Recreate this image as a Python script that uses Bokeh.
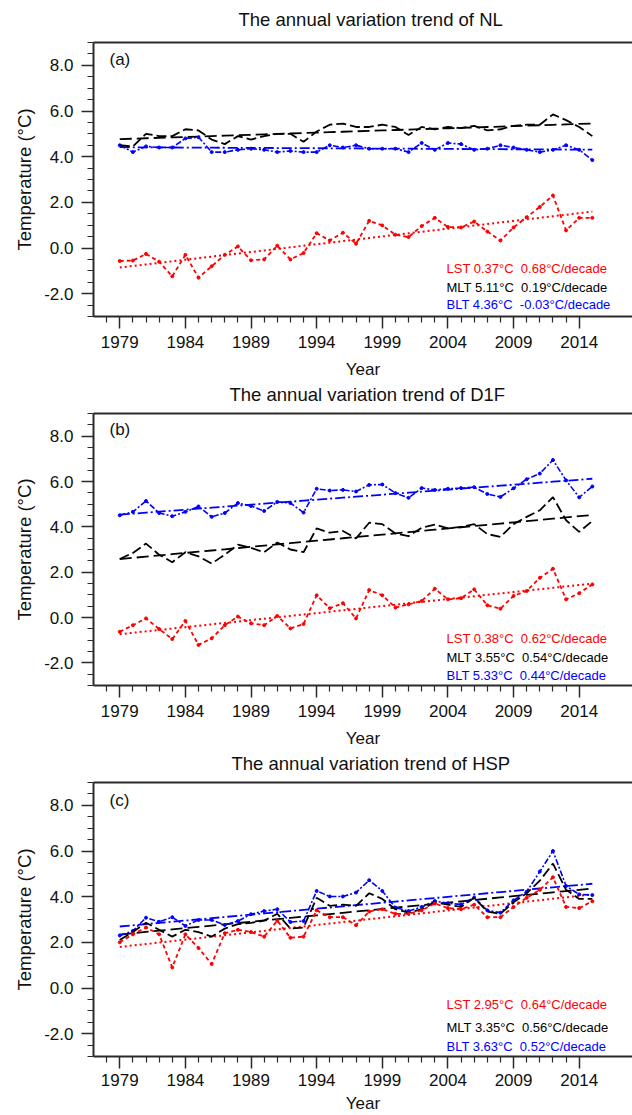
import numpy as np
from bokeh.plotting import figure
from bokeh.models import (Range1d, FixedTicker, NumeralTickFormatter, LinearAxis,
                          Label, ColumnDataSource)
from bokeh.layouts import column
from bokeh.embed import file_html
from bokeh.resources import INLINE

years = list(range(1979, 2016))

# ---- Panel (a) NL ----
nl_lst = [-0.57, -0.55, -0.26, -0.60, -1.24, -0.30, -1.30, -0.80, -0.30, 0.07,
          -0.54, -0.50, 0.10, -0.50, -0.22, 0.65, 0.33, 0.67, 0.19, 1.19,
          0.99, 0.58, 0.48, 0.96, 1.32, 0.92, 0.90, 1.16, 0.72, 0.33,
          0.90, 1.35, 1.80, 2.30, 0.77, 1.32, 1.32]
nl_mlt = [4.50, 4.45, 5.00, 4.90, 4.90, 5.20, 5.15, 4.75, 4.55, 4.90,
          4.75, 4.90, 5.00, 5.00, 4.65, 5.10, 5.40, 5.45, 5.30, 5.30,
          5.40, 5.30, 4.95, 5.30, 5.20, 5.30, 5.25, 5.35, 5.15, 5.20,
          5.35, 5.40, 5.40, 5.85, 5.60, 5.30, 4.90]
nl_blt = [4.50, 4.20, 4.45, 4.40, 4.40, 4.80, 4.85, 4.20, 4.20, 4.30,
          4.35, 4.30, 4.20, 4.25, 4.20, 4.20, 4.50, 4.40, 4.50, 4.35,
          4.35, 4.35, 4.20, 4.60, 4.30, 4.60, 4.55, 4.30, 4.35, 4.50,
          4.40, 4.30, 4.20, 4.30, 4.50, 4.30, 3.85]

# ---- Panel (b) D1F ----
d1f_lst = [-0.63, -0.34, -0.04, -0.51, -0.95, -0.15, -1.21, -0.92, -0.34, 0.04,
           -0.26, -0.34, 0.07, -0.48, -0.29, 0.98, 0.41, 0.63, -0.04, 1.21,
           0.98, 0.44, 0.58, 0.73, 1.27, 0.80, 0.85, 1.24, 0.54, 0.39,
           0.95, 1.17, 1.75, 2.15, 0.80, 1.07, 1.46]
d1f_mlt = [2.58, 2.85, 3.26, 2.77, 2.44, 2.88, 2.70, 2.38, 2.77, 3.21,
           3.07, 2.88, 3.31, 3.00, 2.88, 3.93, 3.74, 3.82, 3.49, 4.18,
           4.12, 3.71, 3.59, 3.96, 4.10, 3.93, 4.00, 4.12, 3.68, 3.56,
           4.12, 4.44, 4.73, 5.31, 4.29, 3.78, 4.26]
d1f_blt = [4.51, 4.66, 5.14, 4.61, 4.47, 4.66, 4.90, 4.44, 4.61, 5.05,
           4.92, 4.70, 5.10, 5.05, 4.63, 5.68, 5.60, 5.63, 5.56, 5.85,
           5.87, 5.49, 5.28, 5.71, 5.63, 5.68, 5.71, 5.75, 5.45, 5.32,
           5.70, 6.10, 6.35, 6.95, 6.05, 5.30, 5.78]

# ---- Panel (c) HSP ----
hsp_lst = [2.00, 2.35, 2.65, 2.35, 0.90, 2.35, 1.75, 1.05, 2.40, 2.55,
           2.45, 2.25, 2.95, 2.20, 2.25, 3.40, 3.10, 3.10, 2.75, 3.35,
           3.45, 3.25, 3.25, 3.40, 3.70, 3.50, 3.45, 3.65, 3.10, 3.10,
           3.55, 3.95, 4.30, 4.85, 3.55, 3.50, 3.80]
hsp_mlt = [2.10, 2.45, 2.86, 2.55, 2.25, 2.55, 2.45, 2.25, 2.60, 2.80,
           2.85, 2.95, 3.25, 2.60, 2.65, 3.95, 3.60, 3.65, 3.60, 4.15,
           3.90, 3.45, 3.30, 3.45, 3.75, 3.65, 3.55, 3.95, 3.35, 3.25,
           3.75, 4.15, 4.70, 5.45, 4.30, 3.90, 3.90]
hsp_blt = [2.30, 2.50, 3.08, 2.90, 3.10, 2.72, 2.98, 2.98, 2.76, 2.93,
           3.23, 3.37, 3.45, 2.89, 2.93, 4.25, 4.01, 4.01, 4.18, 4.72,
           4.25, 3.52, 3.37, 3.55, 3.81, 3.71, 3.66, 3.96, 3.40, 3.30,
           3.84, 4.22, 5.10, 6.00, 4.47, 4.10, 4.07]

panel_names = ["NL", "D1F", "HSP"]
panel_tags = ["(a)", "(b)", "(c)"]
lst_series = [nl_lst, d1f_lst, hsp_lst]
mlt_series = [nl_mlt, d1f_mlt, hsp_mlt]
blt_series = [nl_blt, d1f_blt, hsp_blt]

# legend statistics (mean, trend per decade)
lst_mean = [0.37, 0.38, 2.95]
lst_trend = [0.68, 0.62, 0.64]
mlt_mean = [5.11, 3.55, 3.35]
mlt_trend = [0.19, 0.54, 0.56]
blt_mean = [4.36, 5.33, 3.63]
blt_trend = [-0.03, 0.44, 0.52]

x_major = list(range(1979, 2015, 5))
x_minor = [y for y in range(1978, 2014) if y not in x_major]
y_major = [-2, 0, 2, 4, 6, 8]
y_minor = [v for v in np.arange(-3, 9.01, 0.5).tolist() if v not in y_major]

FONT = "Liberation Sans"
RED, BLACK, BLUE = "#ff0000", "#000000", "#0000ff"
FRAME = "#2a2a2a"
NBSP = "\u00a0"

# layout per panel
heights = [381, 369, 365]
tops = [42, 31, 31]
bottoms = [63, 63, 59]
legend_y = [[48, 29, 12], [47, 28, 10], [52, 29, 10]]
title_offsets = [145, 136, 138]
title_lift = [8, 4, 4]


def make_panel(i):
    h = heights[i]
    fh = h - tops[i] - bottoms[i]
    p = figure(width=632, height=h, x_range=Range1d(1977, 2018.06),
               y_range=Range1d(-3, 9), output_backend="svg",
               toolbar_location=None, min_border_left=93, min_border_right=0,
               min_border_top=tops[i], min_border_bottom=bottoms[i],
               title=f"The annual variation trend of {panel_names[i]}",
               title_location="above")
    p.title.align = "left"
    p.title.offset = title_offsets[i]
    p.title.text_font = FONT
    p.title.text_font_size = "18.5px"
    p.title.text_font_style = "normal"
    p.title.text_color = "#111111"
    p.title.standoff = 0
    p.outline_line_color = None
    p.grid.visible = False
    p.background_fill_color = "white"
    p.border_fill_color = "white"

    # x axis
    xa = p.xaxis[0]
    xa.ticker = FixedTicker(ticks=x_major, minor_ticks=x_minor)
    xa.axis_label = "Year"
    # y axis
    ya = p.yaxis[0]
    ya.ticker = FixedTicker(ticks=y_major, minor_ticks=y_minor)
    ya.formatter = NumeralTickFormatter(format="0.0")
    ya.axis_label = "Temperature (°C)"
    for ax in (xa, ya):
        ax.axis_line_color = FRAME
        ax.axis_line_width = 2
        ax.major_tick_line_color = FRAME
        ax.minor_tick_line_color = FRAME
        ax.major_tick_line_width = 1.5
        ax.minor_tick_line_width = 1.2
        ax.major_tick_out = 12
        ax.major_tick_in = 0
        ax.minor_tick_out = 6
        ax.minor_tick_in = 0
        ax.major_label_text_font = FONT
        ax.major_label_text_font_size = "17px"
        ax.major_label_text_color = "#111111"
        ax.axis_label_text_font = FONT
        ax.axis_label_text_font_style = "normal"
        ax.axis_label_text_color = "#111111"
    xa.axis_label_text_font_size = "17px"
    ya.axis_label_text_font_size = "18.5px"
    xa.major_label_standoff = 7 if i < 2 else 5
    xa.axis_label_standoff = 9 if i < 2 else 5
    ya.major_label_standoff = 8
    ya.axis_label_standoff = 6

    # top frame line; a blank spacer label lifts the title off the frame
    top = LinearAxis(ticker=FixedTicker(ticks=[]), axis_line_color=FRAME,
                     axis_line_width=2, major_tick_line_color=None,
                     minor_tick_line_color=None, major_label_text_font_size="0px",
                     major_tick_out=0, major_tick_in=0, minor_tick_out=0,
                     major_label_standoff=0,
                     axis_label=NBSP, axis_label_text_font_size="2px",
                     axis_label_standoff=title_lift[i])
    p.add_layout(top, "above")

    yrs = np.array(years, dtype=float)
    xm = yrs.mean()
    src = ColumnDataSource(dict(
        year=years,
        lst=lst_series[i], mlt=mlt_series[i], blt=blt_series[i],
        lst_fit=(lst_mean[i] + lst_trend[i] / 10 * (yrs - xm)).tolist(),
        mlt_fit=(mlt_mean[i] + mlt_trend[i] / 10 * (yrs - xm)).tolist(),
        blt_fit=(blt_mean[i] + blt_trend[i] / 10 * (yrs - xm)).tolist(),
    ))

    # trend lines
    p.line("year", "blt_fit", source=src, color=BLUE, line_width=1.8, line_dash="10 3 2 3")
    p.line("year", "mlt_fit", source=src, color=BLACK, line_width=1.8, line_dash="12 5")
    p.line("year", "lst_fit", source=src, color=RED, line_width=2, line_dash="2 3")
    # annual series
    p.line("year", "blt", source=src, color=BLUE, line_width=1.6, line_dash="6 2 2 2")
    p.scatter("year", "blt", source=src, color=BLUE, size=3)
    p.line("year", "mlt", source=src, color=BLACK, line_width=1.8, line_dash="10 4")
    p.line("year", "lst", source=src, color=RED, line_width=1.8, line_dash="4 3")
    p.scatter("year", "lst", source=src, color=RED, size=3)

    # panel tag
    p.add_layout(Label(x=16, y=fh - 19, x_units="screen", y_units="screen",
                       text=panel_tags[i], text_align="left", text_baseline="middle",
                       text_font=FONT, text_font_size="17px", text_color="#111111"))
    # legend texts
    rows = [("LST", lst_mean[i], lst_trend[i], RED),
            ("MLT", mlt_mean[i], mlt_trend[i], BLACK),
            ("BLT", blt_mean[i], blt_trend[i], BLUE)]
    for (name, m, s, c), yy in zip(rows, legend_y[i]):
        p.add_layout(Label(x=353, y=yy, x_units="screen", y_units="screen",
                           text=f"{name} {m:.2f}°C {NBSP}{s:.2f}°C/decade",
                           text_align="left", text_baseline="middle",
                           text_font=FONT, text_font_size="13px", text_color=c))
    return p


panels = [make_panel(i) for i in range(3)]
layout = column(*panels, spacing=0)
open("out.html", "w").write(file_html(layout, INLINE))
